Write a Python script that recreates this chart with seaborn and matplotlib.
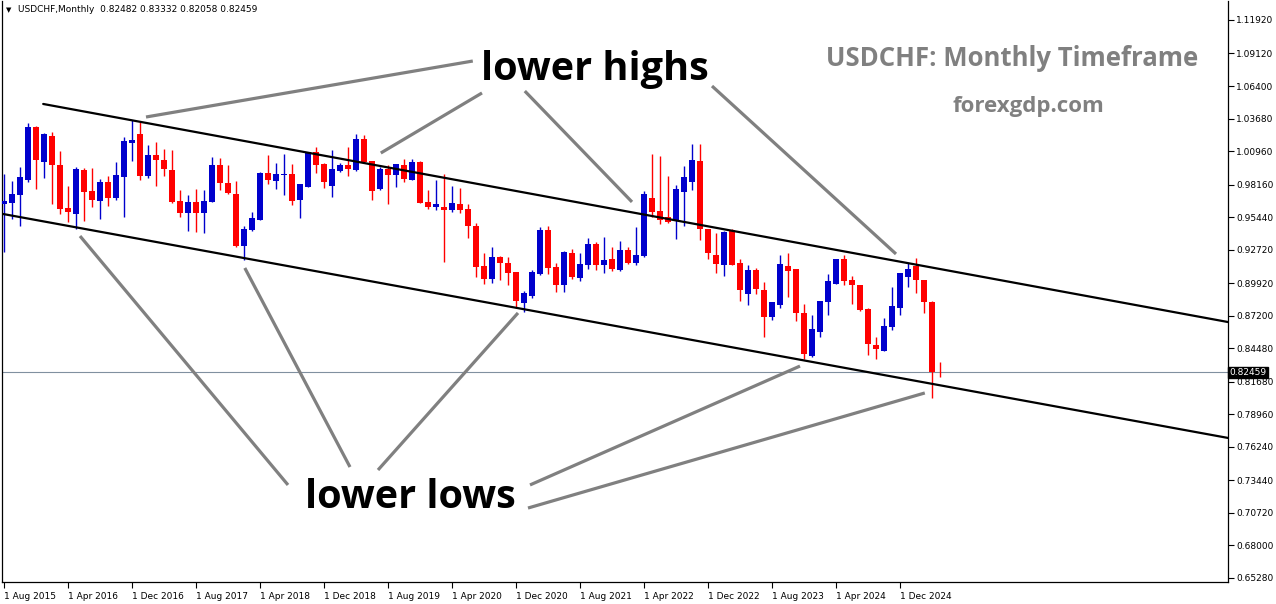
import matplotlib
matplotlib.use('Agg')
import matplotlib.pyplot as plt
import matplotlib.transforms as mtransforms
import seaborn as sns
import pandas as pd
import numpy as np

# ── Monthly USDCHF candles, Aug 2015 .. May 2025 ──────────────────────────────
opens = [0.9656, 0.9665, 0.9732, 0.9854, 1.0300, 1.0008, 1.0222, 0.9980, 0.9620, 0.9573,
         0.9938, 0.9762, 0.9682, 0.9837, 0.9701, 0.9879, 1.0166, 1.0242, 0.9891, 1.0063,
         1.0022, 0.9941, 0.9679, 0.9581, 0.9670, 0.9581, 0.9673, 0.9980, 0.9829, 0.9737,
         0.9305, 0.9439, 0.9523, 0.9913, 0.9849, 0.9900, 0.9904, 0.9690, 0.9799, 1.0088,
         0.9988, 0.9807, 0.9930, 0.9980, 0.9938, 1.0197, 1.0013, 0.9779, 0.9949, 0.9899,
         0.9980, 0.9857, 1.0007, 0.9673, 0.9631, 0.9629, 0.9604, 0.9654, 0.9612, 0.9470,
         0.9135, 0.9029, 0.9213, 0.9158, 0.9085, 0.8823, 0.8887, 0.9068, 0.9436, 0.9130,
         0.8979, 0.9244, 0.9038, 0.9141, 0.9319, 0.9144, 0.9194, 0.9102, 0.9269, 0.9163,
         0.9219, 0.9704, 0.9595, 0.9542, 0.9520, 0.9757, 0.9840, 1.0013, 0.9445, 0.9227,
         0.9144, 0.9436, 0.9160, 0.8904, 0.9102, 0.8935, 0.8709, 0.8812, 0.9138, 0.9108,
         0.8745, 0.8383, 0.8584, 0.8837, 0.8985, 0.9194, 0.9018, 0.8979, 0.8779, 0.8475,
         0.8425, 0.8625, 0.8784, 0.9046, 0.9135, 0.9018, 0.8834, 0.82482]
highs = [0.9904, 0.9849, 0.9960, 1.0328, 1.0305, 1.0245, 1.0256, 1.0097, 0.9804, 0.9963,
         0.9952, 0.9952, 0.9863, 0.9888, 1.0005, 1.0211, 1.0356, 1.0342, 1.0147, 1.0172,
         1.0113, 1.0105, 0.9771, 0.9726, 0.9779, 0.9774, 1.0047, 1.0038, 0.9980, 0.9846,
         0.9470, 0.9584, 0.9924, 1.0063, 0.9999, 1.0072, 0.9988, 0.9825, 1.0092, 1.0133,
         0.9994, 1.0105, 0.9997, 1.0130, 1.0242, 1.0233, 1.0013, 0.9966, 0.9980, 0.9988,
         1.0030, 1.0030, 1.0015, 0.9770, 0.9854, 0.9907, 0.9804, 0.9785, 0.9654, 0.9495,
         0.9244, 0.9294, 0.9219, 0.9213, 0.9085, 0.8924, 0.9102, 0.9459, 0.9470, 0.9163,
         0.9261, 0.9278, 0.9247, 0.9369, 0.9336, 0.9375, 0.9294, 0.9344, 0.9291, 0.9461,
         0.9762, 1.0075, 1.0055, 0.9891, 0.9810, 0.9971, 1.0155, 1.0155, 0.9445, 0.9414,
         0.9428, 0.9445, 0.9194, 0.9144, 0.9122, 0.9004, 0.8834, 0.9230, 0.9244, 0.9111,
         0.8818, 0.8723, 0.8846, 0.9069, 0.9194, 0.9227, 0.9052, 0.8979, 0.8782, 0.8542,
         0.8701, 0.8960, 0.9077, 0.9163, 0.9202, 0.9018, 0.8840, 0.83332]
lows = [0.9255, 0.9525, 0.9470, 0.9840, 0.9779, 0.9874, 0.9657, 0.9567, 0.9500, 0.9445,
        0.9512, 0.9631, 0.9531, 0.9637, 0.9687, 0.9548, 1.0016, 0.9857, 0.9868, 0.9807,
        0.9891, 0.9665, 0.9548, 0.9431, 0.9422, 0.9414, 0.9673, 0.9771, 0.9735, 0.9297,
        0.9185, 0.9430, 0.9523, 0.9821, 0.9782, 0.9729, 0.9648, 0.9539, 0.9799, 0.9910,
        0.9790, 0.9715, 0.9921, 0.9891, 0.9927, 0.9999, 0.9690, 0.9771, 0.9657, 0.9799,
        0.9840, 0.9854, 0.9660, 0.9610, 0.9603, 0.9172, 0.9590, 0.9581, 0.9372, 0.9046,
        0.8988, 0.8996, 0.9021, 0.8976, 0.8787, 0.8754, 0.8865, 0.9057, 0.9071, 0.8921,
        0.8921, 0.9029, 0.9013, 0.9107, 0.9102, 0.9080, 0.9094, 0.9091, 0.9149, 0.9144,
        0.9213, 0.9542, 0.9489, 0.9495, 0.9361, 0.9472, 0.9771, 0.9353, 0.9197, 0.9080,
        0.9052, 0.9140, 0.8846, 0.8809, 0.8901, 0.8545, 0.8684, 0.8784, 0.8879, 0.8678,
        0.8355, 0.8378, 0.8545, 0.8726, 0.8985, 0.8979, 0.8821, 0.8762, 0.8391, 0.8361,
        0.8425, 0.8600, 0.8726, 0.8957, 0.8907, 0.8745, 0.8029, 0.82058]
closes = [0.9679, 0.9737, 0.9877, 1.0300, 1.0022, 1.0242, 0.9983, 0.9615, 0.9587, 0.9946,
          0.9754, 0.9690, 0.9837, 0.9707, 0.9896, 1.0181, 1.0189, 0.9891, 1.0063, 1.0024,
          0.9949, 0.9673, 0.9581, 0.9670, 0.9581, 0.9679, 0.9980, 0.9832, 0.9749, 0.9305,
          0.9445, 0.9537, 0.9913, 0.9857, 0.9905, 0.9904, 0.9682, 0.9821, 1.0086, 0.9983,
          0.9840, 0.9946, 0.9980, 0.9949, 1.0197, 1.0002, 0.9765, 0.9949, 0.9899, 0.9988,
          0.9863, 1.0008, 0.9665, 0.9631, 0.9654, 0.9606, 0.9665, 0.9604, 0.9472, 0.9130,
          0.9029, 0.9211, 0.9163, 0.9080, 0.8846, 0.8910, 0.9085, 0.9436, 0.9121, 0.8979,
          0.9255, 0.9043, 0.9152, 0.9319, 0.9141, 0.9186, 0.9107, 0.9269, 0.9163, 0.9227,
          0.9737, 0.9590, 0.9520, 0.9506, 0.9779, 0.9879, 1.0021, 0.9445, 0.9241, 0.9152,
          0.9420, 0.9144, 0.8935, 0.9102, 0.8943, 0.8709, 0.8834, 0.9152, 0.9096, 0.8745,
          0.8400, 0.8609, 0.8846, 0.9010, 0.9194, 0.9010, 0.8979, 0.8768, 0.8483, 0.8441,
          0.8634, 0.8801, 0.9077, 0.9110, 0.9018, 0.8837, 0.8252, 0.82459]

price_ticks = [1.11920, 1.09120, 1.06400, 1.03680, 1.00960, 0.98160, 0.95440, 0.92720,
               0.89920, 0.87200, 0.84480, 0.81680, 0.78960, 0.76240, 0.73440, 0.70720,
               0.68000, 0.65280]

# channel lines: (month index, price)
upper_channel = [(4.9, 1.0490), (153.0, 0.8667)]
lower_channel = [(-0.1, 0.9570), (153.0, 0.7698)]

# pointer lines from the labels to the swing points
highs_pointers = [[(58.6, 1.0849), (17.75, 1.0381)],
                  [(59.75, 1.0582), (47.1, 1.0080)],
                  [(65.1, 1.0598), (78.5, 0.9671)],
                  [(88.5, 1.0640), (111.5, 0.9236)]]
lows_pointers = [[(35.5, 0.7305), (9.5, 0.9386)],
                 [(43.25, 0.7455), (30.1, 0.9119)],
                 [(46.75, 0.7430), (64.25, 0.8743)],
                 [(65.75, 0.7305), (99.5, 0.8299)],
                 [(65.5, 0.7112), (115.1, 0.8074)]]

months = pd.date_range('2015-08-01', periods=len(opens), freq='MS')
df = pd.DataFrame({'date': months, 'open': opens, 'high': highs,
                   'low': lows, 'close': closes})
df['idx'] = np.arange(len(df))
df['up'] = df['close'] >= df['open']

sns.set_theme(style='white')
plt.rcParams['font.family'] = ['DejaVu Sans']

BLUE = '#0000CC'
RED = '#FF0000'
GRAY = '#808080'

fig = plt.figure(figsize=(12.76, 6.04), dpi=100)
ax = fig.add_axes([2 / 1276, 22 / 604, 1226 / 1276, 581 / 604])

# ── Candles ───────────────────────────────────────────────────────────────────
colors = np.where(df['up'], BLUE, RED)
ax.vlines(df['idx'], df['low'], df['high'], colors=colors, linewidth=1.0, zorder=2)
body_lo = np.minimum(df['open'], df['close'])
body_h = np.maximum(np.abs(df['close'] - df['open']), 0.0004)
ax.bar(df['idx'], body_h, bottom=body_lo, width=0.64, color=colors, linewidth=0, zorder=3)

# ── Channel ───────────────────────────────────────────────────────────────────
for seg in [upper_channel, lower_channel]:
    seg_df = pd.DataFrame(seg, columns=['x', 'y'])
    sns.lineplot(data=seg_df, x='x', y='y', ax=ax, color='black', linewidth=1.6,
                 sort=False, estimator=None, zorder=4)

for seg in highs_pointers + lows_pointers:
    xs, ys = zip(*seg)
    ax.plot(xs, ys, color=GRAY, linewidth=2.3, solid_capstyle='butt', zorder=5)

# current price line
last = closes[-1]
ax.axhline(last, color='#8090A0', linewidth=0.8, zorder=1)

# ── Text ──────────────────────────────────────────────────────────────────────
big = dict(family=['Open Sans', 'DejaVu Sans'], weight='bold', fontsize=28.5,
           color='black', ha='center', va='baseline', zorder=6)
ax.text(73.9, 1.0690, 'lower highs', **big)
ax.text(50.75, 0.7112, 'lower lows', **big)
ax.text(126.0, 1.0807, 'USDCHF: Monthly Timeframe', family=['Open Sans', 'DejaVu Sans'],
        weight='bold', fontsize=18.5, color=GRAY, ha='center', va='baseline')
ax.text(128.0, 1.0423, 'forexgdp.com', family=['Open Sans', 'DejaVu Sans'],
        weight='bold', fontsize=16, color=GRAY, ha='center', va='baseline')

fig.text(6 / 1276, 1 - 10 / 604, '▼', fontsize=5, color='black', va='center')
fig.text(18 / 1276, 1 - 10 / 604, 'USDCHF,Monthly  0.82482 0.83332 0.82058 0.82459',
         fontsize=6.5, color='black', va='center')

# ── Axes ──────────────────────────────────────────────────────────────────────
ax.set_xlim(-0.25, 153)
ax.set_ylim(0.64937, 1.13508)
ax.set_xlabel('')
ax.set_ylabel('')

ax.yaxis.tick_right()
ax.set_yticks(price_ticks)
ax.set_yticklabels([f'{p:.5f}' for p in price_ticks])
ax.tick_params(axis='y', which='both', right=True, left=False, length=4, width=0.8,
               pad=2, labelsize=6.5, colors='black', direction='out')

xt = df['idx'][::8]
ax.set_xticks(xt)
ax.set_xticklabels([f"1 {d.strftime('%b %Y')}" for d in df['date'][::8]],
                   ha='left')
ax.tick_params(axis='x', bottom=True, length=4, width=0.8, pad=3, labelsize=6.5,
               colors='black', direction='out')

for side in ['left', 'bottom', 'right']:
    ax.spines[side].set_visible(True)
    ax.spines[side].set_color('black')
    ax.spines[side].set_linewidth(0.9)
ax.spines['top'].set_visible(False)
ax.grid(False)

# current price tag on the right axis
trans = mtransforms.blended_transform_factory(ax.transAxes, ax.transData)
ax.text(1.0015, last, f'{last:.5f}', transform=trans, fontsize=6.5, color='white',
        va='center', ha='left', clip_on=False,
        bbox=dict(boxstyle='square,pad=0.15', facecolor='black', edgecolor='black'))

fig.savefig('out.png', dpi=100, facecolor='white')
plt.close(fig)
print("Saved out.png")
